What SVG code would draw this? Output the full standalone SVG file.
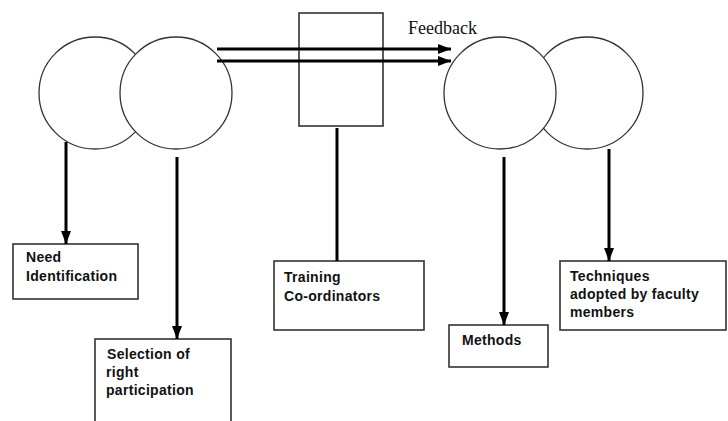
<svg xmlns="http://www.w3.org/2000/svg" width="728" height="421" viewBox="0 0 728 421">
<style>
.circ{fill:#fff;stroke:#333;stroke-width:1.3}
.box{fill:#fff;stroke:#333;stroke-width:1.6}
.conn{stroke:#000;stroke-width:3;fill:none}
.lbl{font-family:"Liberation Sans",Arial,sans-serif;font-size:14px;font-weight:bold;letter-spacing:0.3px;fill:#111}
.fb{font-family:"Liberation Serif","Times New Roman",serif;font-size:18px;fill:#111}
</style>
<defs>
<marker id="ah" markerUnits="userSpaceOnUse" markerWidth="14" markerHeight="12" refX="13" refY="6" orient="auto">
<path d="M0,1 L13,6 L0,11 Z" fill="#000"/>
</marker>
</defs>
<rect width="728" height="421" fill="#fff"/>
<g id="circle4"><circle class="circ" cx="587" cy="93" r="56"/></g>
<g id="circle3"><circle class="circ" cx="500" cy="93" r="56"/></g>
<g id="circle1"><circle class="circ" cx="95" cy="93" r="56"/></g>
<g id="circle2"><circle class="circ" cx="176" cy="93" r="56"/></g>
<g id="rect-top"><rect class="box" x="299" y="13" width="84" height="113"/></g>
<g id="need"><rect class="box" x="13" y="244" width="125" height="55"/>
<text class="lbl" x="26" y="262">Need</text><text class="lbl" x="26" y="281">Identification</text></g>
<g id="selection"><rect class="box" x="95" y="339" width="136" height="90"/>
<text class="lbl" x="107" y="359">Selection of</text><text class="lbl" x="106" y="377">right</text><text class="lbl" x="106" y="395">participation</text></g>
<g id="training"><rect class="box" x="274" y="261" width="150" height="69"/>
<text class="lbl" x="284" y="282">Training</text><text class="lbl" x="284" y="301">Co-ordinators</text></g>
<g id="methods"><rect class="box" x="449" y="325" width="99" height="42"/>
<text class="lbl" x="462" y="345">Methods</text></g>
<g id="techniques"><rect class="box" x="560" y="261" width="166" height="69"/>
<text class="lbl" x="570" y="281">Techniques</text><text class="lbl" x="570" y="299">adopted by faculty</text><text class="lbl" x="570" y="317">members</text></g>
<g id="connectors">
<line class="conn" x1="217" y1="49" x2="451" y2="49" marker-end="url(#ah)"/>
<line class="conn" x1="217" y1="61" x2="451" y2="61" marker-end="url(#ah)"/>
<line class="conn" x1="66" y1="142" x2="66" y2="244" marker-end="url(#ah)"/>
<line class="conn" x1="177" y1="157" x2="177" y2="339" marker-end="url(#ah)"/>
<line class="conn" x1="337" y1="128" x2="337" y2="261"/>
<line class="conn" x1="504" y1="157" x2="504" y2="325" marker-end="url(#ah)"/>
<line class="conn" x1="609" y1="149" x2="609" y2="261" marker-end="url(#ah)"/>
</g>
<text class="fb" x="408" y="34">Feedback</text>
</svg>
